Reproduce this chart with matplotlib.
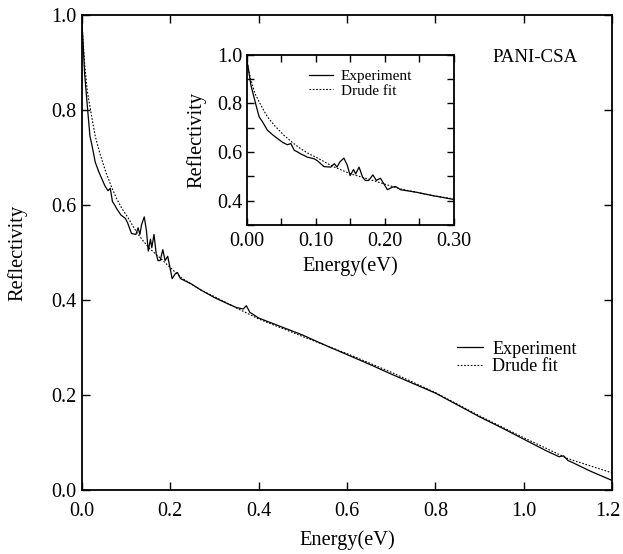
import matplotlib
matplotlib.use("Agg")
import matplotlib.pyplot as plt
import matplotlib.transforms as mtransforms
from matplotlib.ticker import MultipleLocator

plt.rcParams['font.family'] = ['Liberation Serif', 'DejaVu Serif']
plt.rcParams['mathtext.fontset'] = 'stix'

# Experiment data (energy eV, reflectivity)
E_exp = [0.0, 0.002, 0.006, 0.0135, 0.018, 0.023, 0.030, 0.038, 0.045, 0.052, 0.059,
         0.064, 0.069, 0.074, 0.078, 0.083, 0.088, 0.098, 0.103, 0.112, 0.122, 0.127,
         0.131, 0.135, 0.141, 0.146, 0.150, 0.155, 0.158, 0.163, 0.168, 0.172, 0.177,
         0.183, 0.188, 0.194, 0.199, 0.204, 0.211, 0.216, 0.223, 0.247, 0.271, 0.300,
         0.33, 0.35, 0.365, 0.372, 0.38, 0.40, 0.45, 0.50, 0.55, 0.60, 0.65, 0.70,
         0.75, 0.80, 0.85, 0.90, 0.95, 1.00, 1.05, 1.08, 1.09, 1.10, 1.11, 1.15, 1.20]
R_exp = [0.98, 0.95, 0.876, 0.793, 0.745, 0.724, 0.69, 0.67, 0.655, 0.64, 0.63,
         0.635, 0.607, 0.60, 0.593, 0.586, 0.579, 0.572, 0.563, 0.54, 0.538, 0.552,
         0.538, 0.559, 0.575, 0.545, 0.503, 0.528, 0.51, 0.538, 0.497, 0.483, 0.483,
         0.506, 0.483, 0.492, 0.469, 0.445, 0.455, 0.458, 0.445, 0.434, 0.42, 0.405,
         0.392, 0.384, 0.381, 0.388, 0.374, 0.362, 0.344, 0.326, 0.305, 0.285, 0.265, 0.244,
         0.224, 0.204, 0.179, 0.154, 0.131, 0.107, 0.083, 0.070, 0.072, 0.062, 0.058, 0.040, 0.020]

# Drude fit
E_fit = [0.0, 0.002, 0.006, 0.012, 0.018, 0.024, 0.030, 0.040, 0.054, 0.066, 0.078,
         0.09, 0.103, 0.115, 0.127, 0.151, 0.175, 0.199, 0.223, 0.25, 0.271, 0.30,
         0.35, 0.40, 0.50, 0.60, 0.70, 0.80, 0.90, 1.00, 1.10, 1.20]
R_fit = [0.985, 0.95, 0.897, 0.84, 0.807, 0.775, 0.745, 0.71, 0.669, 0.64, 0.614,
         0.593, 0.575, 0.556, 0.538, 0.51, 0.49, 0.469, 0.448, 0.432, 0.42, 0.407,
         0.383, 0.36, 0.323, 0.287, 0.248, 0.205, 0.156, 0.11, 0.066, 0.036]

main_xticks = [0.0, 0.2, 0.4, 0.6, 0.8, 1.0, 1.2]
main_xlabels = ['0.0', '0.2', '0.4', '0.6', '0.8', '1.0', '1.2']

fig = plt.figure(figsize=(6.23, 5.54), dpi=100)
ax = fig.add_axes([0.1316, 0.1155, 0.851, 0.8575])

dot = (0, (1.5, 1.5))
ax.plot(E_exp, R_exp, color='black', lw=0.9, label='Experiment')
ax.plot(E_fit, R_fit, color='black', lw=0.8, linestyle=dot, label='Drude fit')
ax.set_xlim(0, 1.2)
ax.set_ylim(0, 1.0)
ax.set_xticks(main_xticks)
ax.set_xticklabels(main_xlabels)
ax.yaxis.set_major_locator(MultipleLocator(0.2))
ax.tick_params(direction='in', top=True, right=True, length=6, width=1.0,
               labelsize=14.5)
ax.tick_params(axis='x', pad=8.5)
ax.tick_params(axis='y', pad=4)
for s in ax.spines.values():
    s.set_linewidth(1.3)
ax.set_xlabel('Energy(eV)', fontsize=14.7, labelpad=7)
ax.set_ylabel('Reflectivity', fontsize=14.7, labelpad=17)
ax.legend(loc='upper left', bbox_to_anchor=(0.693, 0.33), frameon=False,
          fontsize=13.1, handlelength=1.45, handletextpad=0.5, labelspacing=0.05,
          borderaxespad=0)

# keep the last x tick label ("1.2") inside the image edge
last = ax.xaxis.get_major_ticks()[-1].label1
last.set_horizontalalignment('right')
last.set_transform(last.get_transform() +
                   mtransforms.ScaledTranslation(8 / 100, 0, fig.dpi_scale_trans))

ax.text(535 / 623, 1 - 58 / 554, 'PANI-CSA', transform=fig.transFigure,
        fontsize=13.6, ha='center', va='center')

# Inset
ax2 = fig.add_axes([0.396, 0.594, 0.332, 0.307])
ax2.plot(E_exp, R_exp, color='black', lw=0.9, label='Experiment')
ax2.plot(E_fit, R_fit, color='black', lw=0.8, linestyle=dot, label='Drude fit')
ax2.set_xlim(0, 0.30)
ax2.set_ylim(0.3, 1.0)
ax2.xaxis.set_minor_locator(MultipleLocator(0.05))
ax2.yaxis.set_minor_locator(MultipleLocator(0.1))
ax2.set_yticks([0.4, 0.6, 0.8, 1.0])
ax2.set_xticks([0.0, 0.1, 0.2, 0.3])
ax2.set_xticklabels(['0.00', '0.10', '0.20', '0.30'])
ax2.set_yticklabels(['0.4', '0.6', '0.8', '1.0'])
ax2.tick_params(which='both', direction='in', top=True, right=True, length=5,
                width=1.0, labelsize=14.5)
ax2.tick_params(axis='x', pad=5)
ax2.tick_params(axis='y', pad=3)
for s in ax2.spines.values():
    s.set_linewidth(1.3)
ax2.set_xlabel('Energy(eV)', fontsize=14.7, labelpad=4)
ax2.set_ylabel('Reflectivity', fontsize=14.7, labelpad=8)
ax2.legend(loc='upper left', bbox_to_anchor=(0.27, 0.95), frameon=False,
           fontsize=11, handlelength=1.6, handletextpad=0.5, labelspacing=0.05,
           borderaxespad=0)

fig.savefig('out.png', dpi=100)
